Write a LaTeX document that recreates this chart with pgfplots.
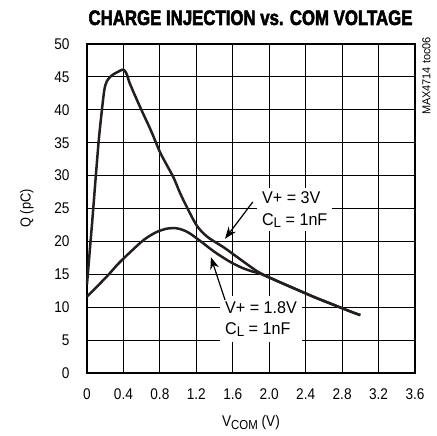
\documentclass[border=0pt]{standalone}
\usepackage{fontspec}
\setmainfont{Liberation Sans}[FakeStretch=0.88]
\newfontfamily\titlefont{Liberation Sans}[FakeStretch=0.8, BoldFeatures={FakeBold=2.5}]
\newfontfamily\notefont{Liberation Sans}[FakeStretch=0.95]
\newfontfamily\annfont{Liberation Sans}[FakeStretch=0.95]
\usepackage{pgfplots}
\pgfplotsset{compat=1.18}
\usetikzlibrary{arrows.meta}
\definecolor{curve}{RGB}{35,31,32}
\newcommand{\tfs}{\fontsize{15.5}{18}\selectfont}
\newcommand{\afs}{\annfont\fontsize{17}{21}\selectfont}
\begin{document}
\begin{tikzpicture}
\begin{axis}[
  at={(0,0)}, anchor=south west,
  scale only axis, width=328pt, height=329pt,
  xmin=0, xmax=3.6, ymin=0, ymax=50,
  xtick={0,0.4,0.8,1.2,1.6,2.0,2.4,2.8,3.2,3.6},
  xticklabels={0,0.4,0.8,1.2,1.6,2.0,2.4,2.8,3.2,3.6},
  ytick={0,5,10,15,20,25,30,35,40,45,50},
  grid=major,
  major grid style={black, line width=0.8pt},
  major tick length=0pt,
  axis line style={line width=2.8pt},
  tick label style={font=\tfs},
  /pgf/number format/assume math mode=true,
  xticklabel shift=12pt, yticklabel shift=14pt,
  clip=false,
]
\addplot[curve, line width=2.5pt, smooth, tension=0.5] coordinates {
(0,13.5) (0.03,18.5) (0.06,23.5) (0.10,30.5) (0.13,35.5) (0.16,39.5) (0.19,43) (0.22,44.4)
(0.27,45.2) (0.33,45.7) (0.40,46.1) (0.44,45.3) (0.47,44.0) (0.58,40.5) (0.7,36.9) (0.8,33.6)
(0.88,31.5) (0.95,29.7) (1.02,27.4) (1.1,25.1) (1.2,22.5) (1.28,21.2) (1.35,20.4) (1.5,19.1)
(1.65,17.6) (1.8,16.1) (1.9,15.2) (2.1,13.9) (2.3,12.7) (2.5,11.5) (2.7,10.4) (2.9,9.3) (3.0,8.8)
};
\addplot[curve, line width=2.5pt, smooth, tension=0.5] coordinates {
(0,11.6) (0.1,13.0) (0.22,14.7) (0.35,16.7) (0.5,18.7) (0.63,20.3) (0.76,21.4) (0.88,21.95)
(0.98,22.0) (1.06,21.7) (1.13,21.2) (1.24,20.1) (1.4,18.4) (1.57,16.9) (1.7,16.0) (1.82,15.4)
(1.9,15.1) (2.1,13.9) (2.3,12.7) (2.5,11.5) (2.7,10.4) (2.9,9.3) (3.0,8.8)
};
\node[fill=white, inner xsep=5pt, inner ysep=4pt, align=left, font=\afs] at (axis cs:2.28,24.8)
  {V+ = 3V\\C\raisebox{-2.5pt}{\fontsize{14}{14}\selectfont L} = 1nF};
\node[fill=white, inner xsep=5pt, inner ysep=5.5pt, align=left, font=\afs] at (axis cs:1.91,8.2)
  {V+ = 1.8V\\C\raisebox{-2.5pt}{\fontsize{14}{14}\selectfont L} = 1nF};
\draw[black, line width=1.2pt, -{Stealth[length=12pt, width=9pt]}] (axis cs:1.82,26.0) -- (axis cs:1.515,20.4);
\draw[black, line width=1.2pt, -{Stealth[length=12pt, width=9pt]}] (axis cs:1.515,11.1) -- (axis cs:1.36,17.6);
\end{axis}
\node[anchor=base, inner sep=0pt] at (163.5pt,348pt) {\titlefont\bfseries\fontsize{21}{24}\selectfont CHARGE INJECTION vs. COM VOLTAGE};
\node[rotate=90, inner sep=0pt, font=\fontsize{14.5}{16}\selectfont] at (-60pt,164.5pt) {Q (pC)};
\node[anchor=base, inner sep=0pt, font=\tfs] at (164pt,-54pt) {V\raisebox{-2.5pt}{\fontsize{13}{13}\selectfont COM} (V)};
\node[rotate=90, anchor=east, inner sep=0pt, font=\notefont\fontsize{11.5}{13}\selectfont] at (339.5pt,336pt) {MAX4714 toc06};
\pgfresetboundingbox
\path (-87pt,-63pt) rectangle (350pt,373pt);
\end{tikzpicture}
\end{document}
